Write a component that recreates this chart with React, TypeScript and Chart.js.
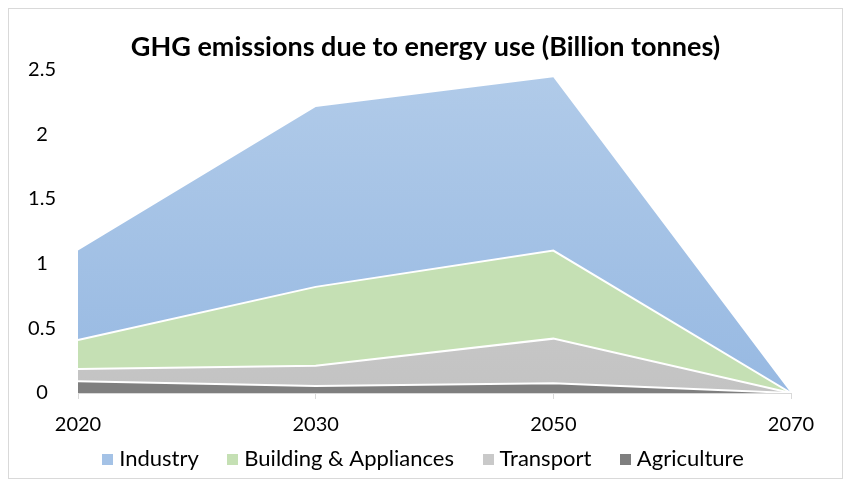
import React, { useEffect, useRef } from "react";
import { Chart, registerables } from "chart.js";

Chart.register(...registerables);

const years = ["2020", "2030", "2050", "2070"];
const agriculture = [0.09, 0.055, 0.075, 0];
const transport = [0.095, 0.155, 0.345, 0];
const building = [0.225, 0.61, 0.68, 0];
const industry = [0.69, 1.39, 1.34, 0];
const yTicks = [0, 0.5, 1, 1.5, 2, 2.5];

const FONT = "Lato, 'Open Sans', sans-serif";
const LEGEND_GAP = "    ";
const legendFills = ["#7f7f7f", "#c9c9c9", "#c5e0b4", "#a4c2e6"];

function grad(top: string, bottom: string) {
  return (ctx: any) => {
    const chart = ctx.chart;
    const area = chart.chartArea;
    if (!area) return bottom;
    const g = chart.ctx.createLinearGradient(0, area.top, 0, area.bottom);
    g.addColorStop(0, top);
    g.addColorStop(1, bottom);
    return g;
  };
}

function swatch(color: string) {
  const c = document.createElement("canvas");
  c.width = 11;
  c.height = 11;
  const g = c.getContext("2d");
  if (g) {
    g.fillStyle = color;
    g.fillRect(0, 0, 11, 11);
  }
  return c;
}

export default function App() {
  const ref = useRef<HTMLCanvasElement>(null);
  useEffect(() => {
    if (!ref.current) return;
    const swatches = legendFills.map(swatch);
    const chart = new Chart(ref.current, {
      type: "line",
      data: {
        labels: years,
        datasets: [
          {
            label: "Agriculture",
            data: agriculture,
            backgroundColor: "#7f7f7f",
            borderColor: "#ffffff",
            borderWidth: 2,
            fill: "origin",
            pointRadius: 0,
          },
          {
            label: "Transport",
            data: transport,
            backgroundColor: grad("#d4d4d4", "#c3c3c3"),
            borderColor: "#ffffff",
            borderWidth: 2,
            fill: "-1",
            pointRadius: 0,
          },
          {
            label: "Building & Appliances",
            data: building,
            backgroundColor: "#c5e0b4",
            borderColor: "#ffffff",
            borderWidth: 2,
            fill: "-1",
            pointRadius: 0,
          },
          {
            label: "Industry",
            data: industry,
            backgroundColor: grad("#b1cbe9", "#97b9e2"),
            borderColor: "rgba(255,255,255,0)",
            borderWidth: 0,
            fill: "-1",
            pointRadius: 0,
          },
        ],
      },
      options: {
        animation: false,
        responsive: true,
        maintainAspectRatio: false,
        layout: { padding: { left: 0, right: 0, top: 0, bottom: -2 } },
        plugins: {
          title: {
            display: true,
            text: "GHG emissions due to energy use (Billion tonnes)",
            color: "#000000",
            font: { family: FONT, size: 27, weight: "bold" },
            padding: { top: 22, bottom: 6 },
          },
          legend: {
            position: "bottom",
            reverse: true,
            labels: {
              color: "#000000",
              font: { family: FONT, size: 22 },
              usePointStyle: true,
              pointStyleWidth: 1,
              boxWidth: 11,
              boxHeight: 11,
              padding: 11,
              generateLabels: (c: any) =>
                c.data.datasets.map((ds: any, i: number) => ({
                  text: i === 0 ? ds.label : ds.label + LEGEND_GAP,
                  fillStyle: legendFills[i],
                  strokeStyle: legendFills[i],
                  pointStyle: swatches[i],
                  lineWidth: 0,
                  hidden: false,
                  datasetIndex: i,
                  fontColor: "#000000",
                })),
            },
          },
          tooltip: { enabled: false },
        },
        scales: {
          x: {
            stacked: true,
            offset: false,
            afterFit: (s: any) => {
              s.height = 44;
            },
            grid: {
              display: true,
              drawOnChartArea: false,
              drawTicks: true,
              tickLength: 6,
              color: "#d9d9d9",
            },
            border: { display: true, color: "#d9d9d9", width: 1 },
            ticks: {
              color: "#000000",
              font: { family: FONT, size: 20 },
              padding: 14,
              maxRotation: 0,
            },
          },
          y: {
            stacked: true,
            min: 0,
            max: 2.5,
            afterFit: (s: any) => {
              s.width = 69;
            },
            afterBuildTicks: (s: any) => {
              s.ticks = yTicks.map((v) => ({ value: v }));
            },
            grid: { display: false },
            border: { display: false },
            ticks: {
              color: "#000000",
              font: { family: FONT, size: 20 },
              padding: 14,
              crossAlign: "center",
              callback: (v: any) => String(v),
            },
          },
          yRight: {
            position: "right",
            display: true,
            min: 0,
            max: 2.5,
            afterFit: (s: any) => {
              s.width = 51;
            },
            grid: { display: false },
            border: { display: false },
            ticks: { display: false },
          },
        },
      },
    });
    return () => chart.destroy();
  }, []);
  return (
    <div
      style={{
        width: 833,
        height: 469,
        border: "1px solid #d9d9d9",
        background: "#ffffff",
        position: "relative",
      }}
    >
      <canvas ref={ref} />
    </div>
  );
}
